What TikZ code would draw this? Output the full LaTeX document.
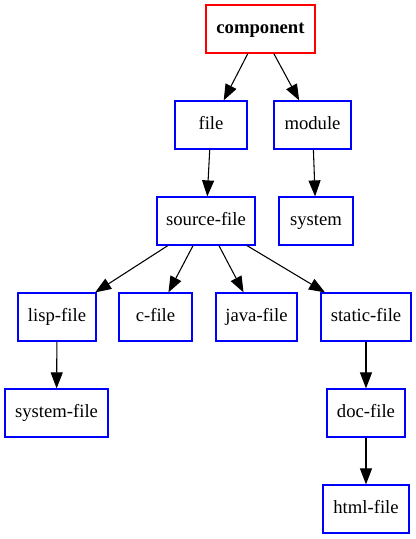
\documentclass[tikz,border=0pt]{standalone}
\usepackage{fontspec}
\setmainfont{Liberation Serif}
\usetikzlibrary{arrows.meta}

\tikzset{
  box/.style={draw=blue,line width=0.9pt,minimum height=36pt,inner sep=0pt,
    text height=9.5pt,text depth=3pt,font=\fontsize{14}{16}\selectfont},
  boxw/.style={minimum width=#1*0.75pt},
  edge/.style={-{Triangle[length=12pt,width=9pt]},line width=0.8pt}
}

\begin{document}
\begin{tikzpicture}[x=0.75pt,y=-0.75pt]
 \useasboundingbox (0,0) rectangle (416,539);
 % top
 \node[box,boxw=109,draw=red,font=\fontsize{14}{16}\selectfont\bfseries] (component) at (260.5,29) {component};
 \node[box,boxw=72] (file) at (211,125) {file};
 \node[box,boxw=77] (module) at (312.5,125) {module};
 % middle
 \node[box,boxw=98] (sourcefile) at (206,221) {source-file};
 \node[box,boxw=74] (system) at (316,221) {system};
 \node[box,boxw=78] (lispfile) at (57,317) {lisp-file};
 \node[box,boxw=73] (cfile) at (155.5,317) {c-file};
 \node[box,boxw=81] (javafile) at (256.5,317) {java-file};
 \node[box,boxw=90] (staticfile) at (366,317) {static-file};
 % bottom
 \node[box,boxw=103] (systemfile) at (56.5,413) {system-file};
 \node[box,boxw=78] (docfile) at (366,413) {doc-file};
 \node[box,boxw=86] (htmlfile) at (366,509) {html-file};

 \draw[edge] (component) -- (file);
 \draw[edge] (component) -- (module);
 \draw[edge] (file) -- (sourcefile);
 \draw[edge] (module) -- (system);
 \draw[edge] (sourcefile) -- (lispfile);
 \draw[edge] (sourcefile) -- (cfile);
 \draw[edge] (sourcefile) -- (javafile);
 \draw[edge] (sourcefile) -- (staticfile);
 \draw[edge] (lispfile) -- (systemfile);
 \draw[edge] (staticfile) -- (docfile);
 \draw[edge] (docfile) -- (htmlfile);
\end{tikzpicture}
\end{document}
